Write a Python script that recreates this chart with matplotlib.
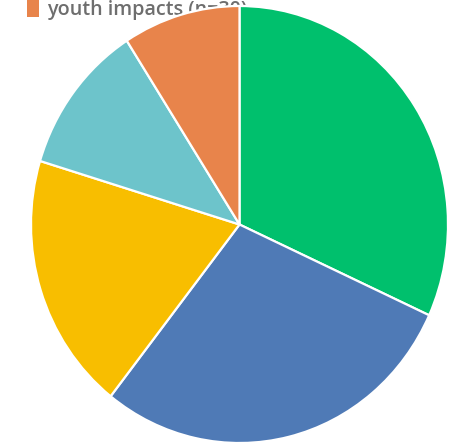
import matplotlib
matplotlib.use("Agg")
import matplotlib.pyplot as plt
from matplotlib.patches import Patch

# Slice counts, clockwise from 12 o'clock
categories = ["group A", "group B", "group C", "group D", "youth impacts"]
counts = [105, 95, 63, 37, 30]
colors = ["#00C06D", "#4F7AB6", "#F8BE00", "#6DC4CB", "#E8844B"]

fig = plt.figure(figsize=(4.59, 4.48), dpi=100)
ax = fig.add_axes([31 / 459, 5 / 448, 417 / 459, 437 / 448])

wedges, _ = ax.pie(
    counts,
    colors=colors,
    startangle=90,
    counterclock=False,
    wedgeprops=dict(edgecolor="white", linewidth=1.6),
)
ax.set_aspect("auto")
ax.set_xlim(-1.0, 1.0)
ax.set_ylim(-1.0, 1.0)
ax.axis("off")

# Legend entry for the last slice, sitting behind the pie
handles = [Patch(facecolor=colors[4], edgecolor="none")]
labels = [f"{categories[4]} (n={counts[4]})"]
leg = fig.legend(
    handles, labels,
    loc="upper left",
    bbox_to_anchor=(9 / 459, 1 + 18 / 448),
    frameon=False,
    handlelength=0.6,
    handleheight=1.0,
    handletextpad=0.45,
    prop={"family": "Open Sans", "size": 14.2, "weight": 600},
    labelcolor="#6E6E6E",
)
leg.set_zorder(-1)

fig.savefig("out.png", dpi=100, facecolor="white")
